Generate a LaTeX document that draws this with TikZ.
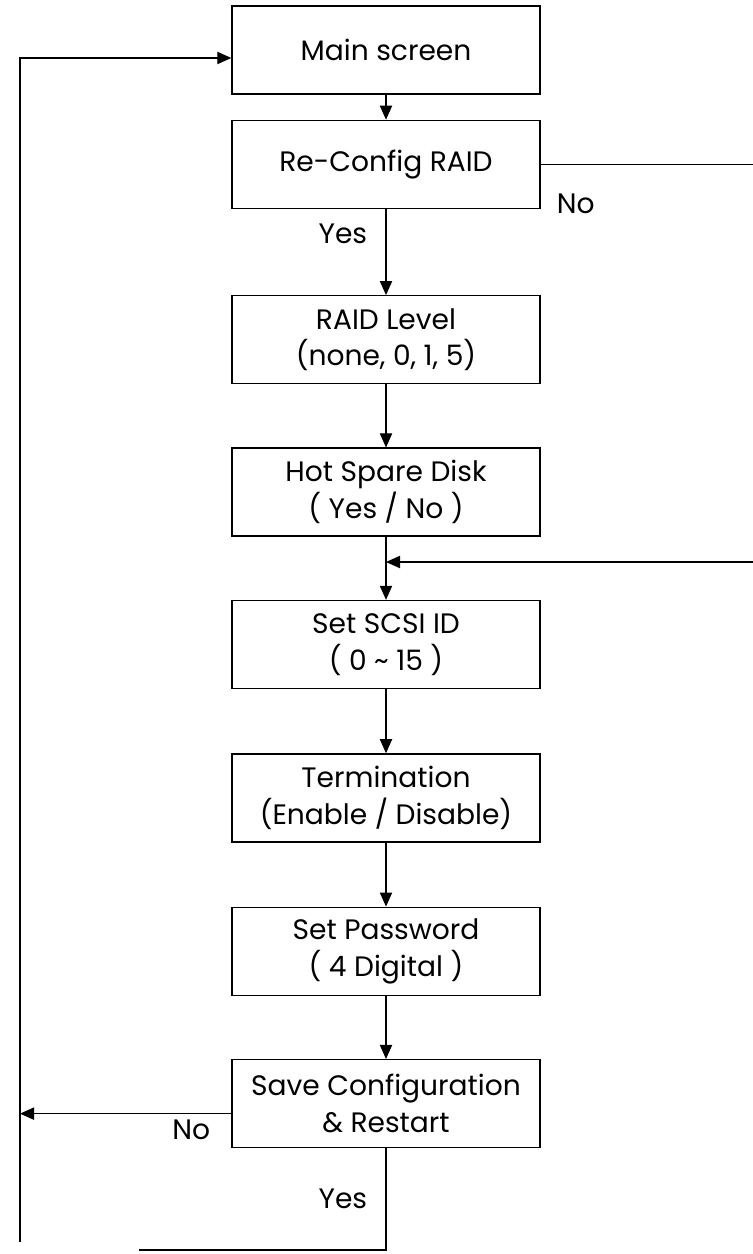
\documentclass[tikz,border=0pt]{standalone}
\usepackage{fontspec}
\setmainfont{Poppins}
\usepackage{tikz}
\usetikzlibrary{arrows.meta, positioning, calc}

\begin{document}
\begin{tikzpicture}[
    x=0.02cm, y=-0.02cm,
    box/.style={draw, line width=0.8pt, minimum width=6.16cm,
                minimum height=1.76cm, align=center,
                font=\fontsize{16}{21}\selectfont},
    arr/.style={-{Triangle[length=8pt,width=7pt]}, line width=0.6pt},
    line/.style={line width=0.6pt},
    lbl/.style={font=\fontsize{16}{18}\selectfont}
  ]
  \useasboundingbox (0,0) rectangle (753,1254);
  \node[box] (main) at (386,50) {Main screen};
  \node[box, below=0.5cm of main]      (reconfig) {Re-Config RAID};
  \node[box, below=1.72cm of reconfig] (raid)     {RAID Level\\(none, 0, 1, 5)};
  \node[box, below=1.26cm of raid]     (hotspare) {Hot Spare Disk\\( Yes / No )};
  \node[box, below=1.26cm of hotspare] (scsi)     {Set SCSI ID\\( 0 \textasciitilde{} 15 )};
  \node[box, below=1.28cm of scsi]     (term)     {Termination\\(Enable / Disable)};
  \node[box, below=1.28cm of term]     (passwd)   {Set Password\\( 4 Digital )};
  \node[box, below=1.26cm of passwd]   (save)     {Save Configuration\\\& Restart};
  % loop lines and edge points
  \coordinate (redge)   at (753,0);
  \coordinate (loopbot) at (20,1242);
  \coordinate (yesend)  at (139,1250);
  \coordinate (join)    at ($(hotspare.south)!0.4!(scsi.north)$);
  \coordinate (saveout) at ([yshift=-0.2cm]save.west);
  \draw[arr] (main) -- (reconfig);
  \draw[arr] (reconfig) -- node[lbl, left=0.25cm, pos=0.29]{Yes} (raid);
  \draw[line] (reconfig.east) -- (reconfig.east -| redge);
  \node[lbl, right=0.2cm of reconfig.south east, yshift=0.1cm] (nolbl) {No};
  \draw[arr] (raid) -- (hotspare);
  \draw[arr] (hotspare) -- (scsi);
  \draw[arr] (join -| redge) -- (join);
  \draw[arr] (scsi) -- (term);
  \draw[arr] (term) -- (passwd);
  \draw[arr] (passwd) -- (save);
  \draw[arr] (saveout) -- node[lbl, below, pos=0.19]{No} (saveout -| loopbot);
  \draw[line] (save.south) |- node[lbl, left=0.25cm, pos=0.25]{Yes} (yesend);
  \draw[arr] (loopbot) |- ([yshift=-0.16cm]main.west);
\end{tikzpicture}
\end{document}
